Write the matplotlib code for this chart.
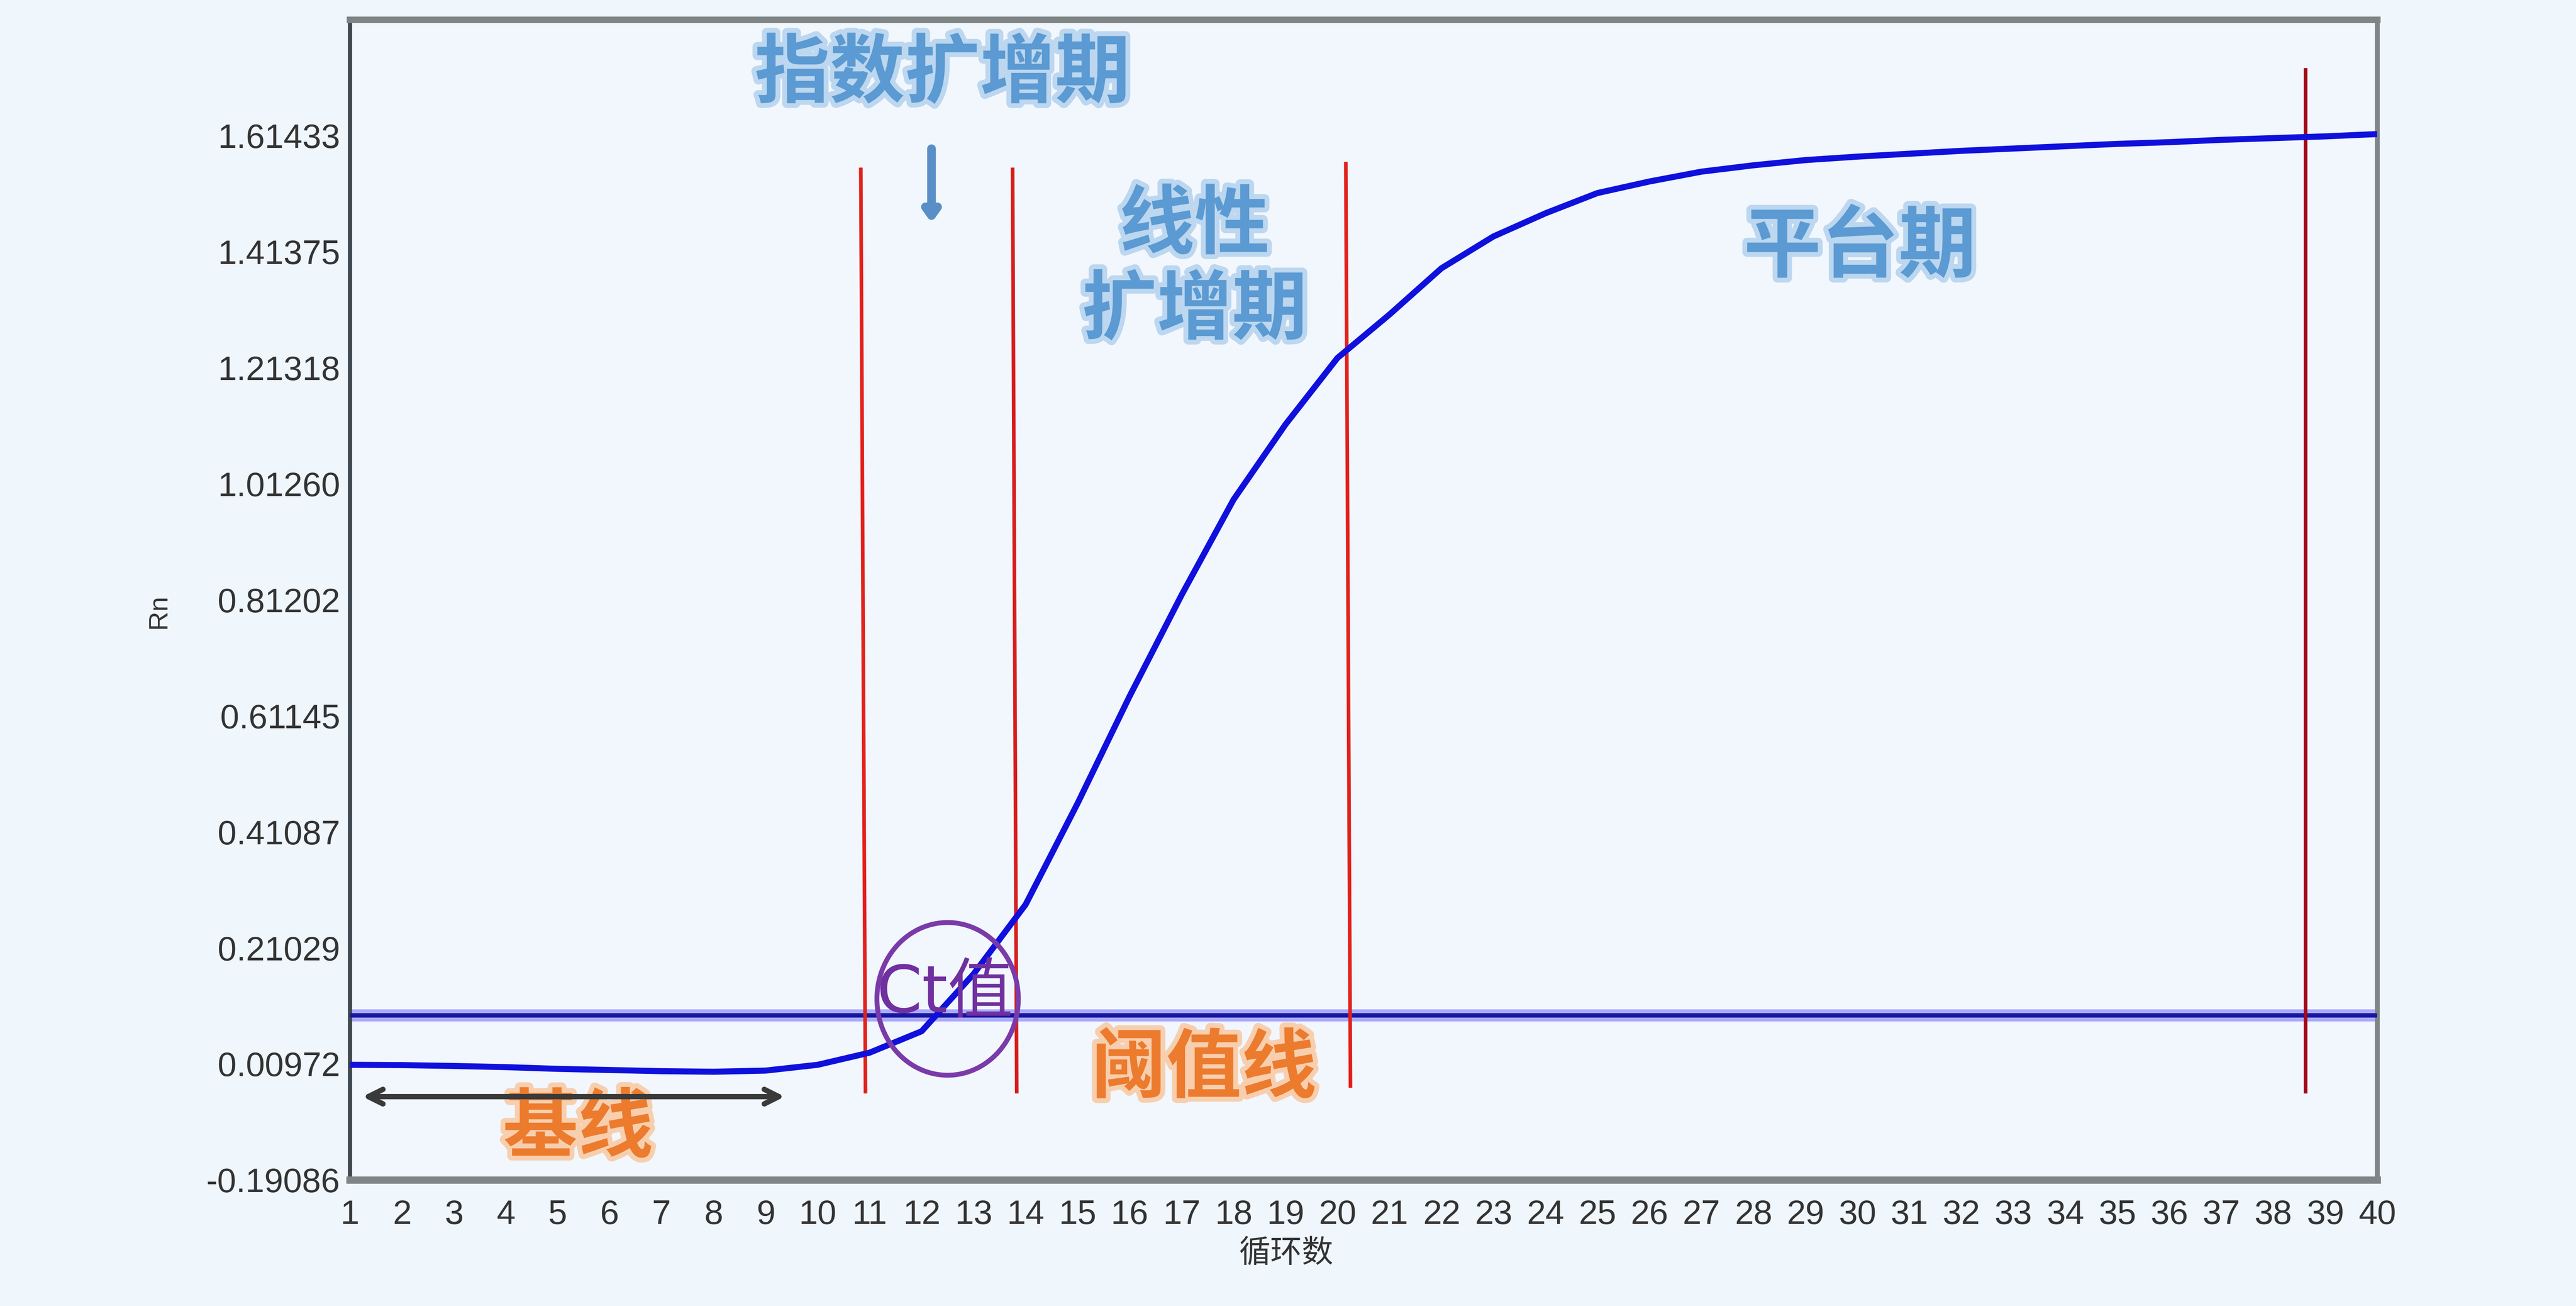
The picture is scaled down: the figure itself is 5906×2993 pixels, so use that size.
import matplotlib
matplotlib.use("Agg")
import matplotlib.pyplot as plt
import matplotlib.patheffects as pe
from matplotlib.patches import Ellipse

plt.rcParams['font.family'] = ['Noto Sans CJK SC', 'DejaVu Sans']

# qPCR amplification curve
cycles = list(range(1, 41))
rn = [0.008, 0.0075, 0.006, 0.004, 0.001, -0.001, -0.003, -0.004, -0.002, 0.008,
      0.029, 0.066, 0.165, 0.285, 0.46, 0.645, 0.82, 0.985, 1.115, 1.23,
      1.305, 1.385, 1.44, 1.48, 1.515, 1.535, 1.552, 1.563, 1.572, 1.578,
      1.583, 1.588, 1.592, 1.596, 1.600, 1.603, 1.607, 1.610, 1.613, 1.617]

ytick_vals = [-0.19086, 0.00972, 0.21029, 0.41087, 0.61145, 0.81202,
              1.01260, 1.21318, 1.41375, 1.61433]
ytick_labels = ['-0.19086', '0.00972', '0.21029', '0.41087', '0.61145', '0.81202',
                '1.01260', '1.21318', '1.41375', '1.61433']
y_top = 1.8149

threshold = 0.0935

# phase boundary lines (slightly slanted in the original)
phase_top_x = [10.83, 13.75, 20.16, 38.62]
phase_bot_x = [10.92, 13.83, 20.25, 38.62]
phase_top_y = [1.559, 1.559, 1.569, 1.731]
phase_bot_y = [-0.0415, -0.0415, -0.0317, -0.0415]
phase_colors = ['#e3201b', '#d81c1c', '#e3201b', '#a50818']

baseline_span = (1.15, 9.46)
baseline_y = -0.047

tick_font = ['Liberation Sans', 'DejaVu Sans']

fig = plt.figure(figsize=(14.765, 7.4825), dpi=400, facecolor='#eff6fc')
ax = fig.add_axes([0.1358, 0.0966, 0.7870, 0.8884])
ax.set_facecolor('#f1f7fd')

# threshold line with soft halo
ax.axhline(threshold, color='#a9a9ff', lw=5, zorder=2)
ax.axhline(threshold, color='#16169c', lw=1.8, zorder=3)

for xt, xb, yt, yb, c in zip(phase_top_x, phase_bot_x, phase_top_y, phase_bot_y, phase_colors):
    ax.plot([xt, xb], [yt, yb], color=c, lw=1.5, zorder=4, solid_capstyle='butt')

ax.plot(cycles, rn, color='#1010dd', lw=2.5, zorder=5, solid_joinstyle='round')

# Ct circle
ax.add_patch(Ellipse((12.5, 0.122), 2.72, 0.264, fill=False, ec='#7a3aa8', lw=2, zorder=6))
ax.text(12.45, 0.13, 'Ct值', color='#7030a0', fontsize=27, ha='center', va='center',
        family=['DejaVu Sans', 'Noto Sans CJK SC'], zorder=7)

blue_fx = [pe.withStroke(linewidth=4, foreground='#bcd7ef')]
orange_fx = [pe.withStroke(linewidth=4, foreground='#f8cfae')]

ax.text(12.4, 1.72, '指数扩增期', color='#5b9ad2', fontsize=31, fontweight='bold',
        ha='center', va='center', path_effects=blue_fx)
ax.annotate('', xy=(12.19, 1.455), xytext=(12.19, 1.60),
            arrowprops=dict(arrowstyle='-|>,head_width=0.25,head_length=0.35',
                            lw=3.6, color='#5a8ec6'))
ax.text(17.25, 1.385, '线性\n扩增期', color='#5b9ad2', fontsize=31, fontweight='bold',
        ha='center', va='center', linespacing=1.15, path_effects=blue_fx)
ax.text(30.05, 1.42, '平台期', color='#5b9ad2', fontsize=32, fontweight='bold',
        ha='center', va='center', path_effects=blue_fx)
ax.text(17.43, 0.0, '阈值线', color='#ec7b2e', fontsize=31, fontweight='bold',
        ha='center', va='center', path_effects=orange_fx)
ax.text(5.39, -0.103, '基线', color='#ec7b2e', fontsize=31, fontweight='bold',
        ha='center', va='center', path_effects=orange_fx)

ax.annotate('', xy=(baseline_span[0], baseline_y), xytext=(baseline_span[1], baseline_y),
            arrowprops=dict(arrowstyle='<->,head_width=0.3,head_length=0.6',
                            lw=2.2, color='#3a3a3a'))

ax.set_xlim(1, 40)
ax.set_ylim(ytick_vals[0], y_top)
ax.set_xticks(cycles)
ax.set_xticklabels([str(c) for c in cycles])
ax.set_yticks(ytick_vals)
ax.set_yticklabels(ytick_labels)
ax.tick_params(length=0, labelsize=14, labelcolor='#333333')
ax.tick_params(axis='x', pad=8)
ax.tick_params(axis='y', pad=4)
for lab in ax.get_xticklabels() + ax.get_yticklabels():
    lab.set_family(tick_font)

ax.set_xlabel('循环数', fontsize=13, color='#333333')
ax.xaxis.set_label_coords(0.462, -0.05)
ax.set_ylabel('Rn', fontsize=11, color='#333333', family=tick_font)
ax.yaxis.set_label_coords(-0.088, 0.49)

ax.spines['top'].set_color('#7f8486')
ax.spines['top'].set_linewidth(2.7)
ax.spines['bottom'].set_color('#7f8486')
ax.spines['bottom'].set_linewidth(3)
ax.spines['left'].set_color('#3d454d')
ax.spines['left'].set_linewidth(1.7)
ax.spines['right'].set_color('#7f8486')
ax.spines['right'].set_linewidth(2)

fig.savefig('out.png', dpi=400, facecolor=fig.get_facecolor())
